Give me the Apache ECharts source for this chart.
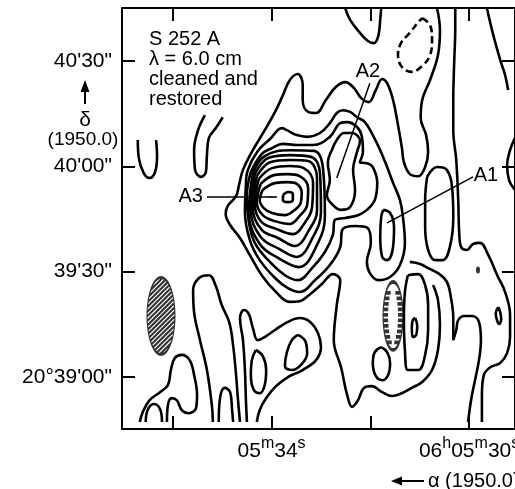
<!DOCTYPE html>
<html><head><meta charset="utf-8">
<script src="https://cdn.jsdelivr.net/npm/echarts@6/dist/echarts.min.js"></script>
<style>html,body{margin:0;padding:0;background:#fff}#c{width:515px;height:489px}</style>
</head><body><div id="c"></div>
<script>
// ---- axes (x: RA seconds of 06h05m, y: arcsec above 20°39'00") ----
const raTicks = [30, 32, 34, 36];
const raLabels = {30: '{n|06}{s|h}{n|05}{s|m}{n|30}{s|s}', 34: '{n|05}{s|m}{n|34}{s|s}'};
const decTicks = [0, 30, 60, 90];
const decLabels = {0: '20°39\'00"', 30: '39\'30"', 60: '40\'00"', 90: '40\'30"'};
const xRange = [29.07, 37.03];
const yRange = [-14.8, 105.1];

// ---- contours [RA s, Dec arcsec] ----
const contourPeak = [[33.77,51.8],[33.67,52.7],[33.57,52.1],[33.57,50.4],[33.67,49.8],[33.77,50.4],[33.77,51.8]];
const contourR1 = [[34.18,53.3],[33.91,55.3],[33.67,55.5],[33.49,55.0],[33.39,52.4],[33.41,49.6],[33.53,47.6],[33.73,46.1],[33.99,46.7],[34.16,48.1],[34.24,50.4],[34.18,53.3]];
const contourR2 = [[34.22,55.0],[33.95,57.5],[33.67,57.8],[33.43,57.2],[33.26,53.8],[33.28,49.0],[33.43,45.9],[33.63,43.6],[33.93,44.4],[34.18,46.1],[34.30,49.8],[34.22,55.0]];
const contourR3 = [[34.26,56.4],[33.99,59.5],[33.63,60.1],[33.35,59.5],[33.16,55.3],[33.18,48.4],[33.32,44.1],[33.57,40.7],[33.91,42.2],[34.20,44.1],[34.34,49.0],[34.26,56.4]];
const contourR4 = [[34.30,57.2],[34.03,61.2],[33.63,61.8],[33.26,61.5],[33.08,56.7],[33.08,47.6],[33.24,41.9],[33.53,37.3],[33.87,39.6],[34.20,41.9],[34.38,48.1],[34.30,57.2]];
const contourR5 = [[34.34,57.8],[34.07,62.4],[33.63,63.2],[33.20,62.7],[33.02,58.1],[33.00,47.0],[33.16,39.9],[33.49,34.2],[33.85,36.5],[34.22,39.9],[34.42,47.6],[34.34,57.8]];
const contourR6 = [[34.38,58.1],[34.14,62.9],[33.63,64.6],[33.14,64.4],[32.96,59.5],[32.92,46.1],[33.06,38.2],[33.45,31.3],[33.83,33.6],[34.24,37.9],[34.46,47.0],[34.38,58.1]];
const contourS3 = [[34.42,58.4],[34.20,63.5],[33.99,65.2],[33.77,66.4],[33.49,66.1],[33.16,66.1],[32.82,68.4],[32.61,72.3],[32.47,72.6],[32.27,71.2],[32.17,68.4],[32.15,64.1],[32.21,61.2],[32.07,60.9],[31.95,59.8],[31.86,55.3],[31.91,50.4],[32.07,47.6],[32.25,46.1],[32.51,45.3],[32.72,44.7],[32.76,40.4],[32.92,35.6],[33.18,31.0],[33.47,27.6],[33.73,29.0],[34.07,33.3],[34.34,38.2],[34.46,44.1],[34.50,51.8],[34.42,58.4]];
const contourS2 = [[34.52,54.7],[34.48,59.0],[34.28,64.4],[34.03,67.8],[33.79,70.9],[33.69,70.3],[33.49,68.9],[33.28,68.4],[33.02,69.5],[32.82,72.3],[32.68,75.2],[32.55,76.0],[32.41,75.5],[32.27,74.0],[32.11,72.6],[31.95,68.9],[31.80,64.6],[31.66,59.8],[31.54,55.3],[31.40,50.4],[31.34,45.6],[31.30,38.2],[31.40,31.9],[31.60,28.5],[31.84,27.6],[32.01,29.6],[32.07,32.8],[31.99,38.2],[32.05,42.4],[32.31,43.0],[32.57,41.9],[32.61,37.0],[32.82,31.9],[33.12,27.6],[33.43,24.2],[33.67,25.3],[33.93,28.2],[34.24,33.3],[34.44,39.0],[34.54,47.0],[34.52,54.7]];
const contourC1 = [[30.65,105.1],[30.59,98.8],[30.63,91.7],[30.79,84.6],[30.95,78.9],[30.98,73.8],[30.87,68.9],[30.83,64.1],[30.89,59.8],[31.03,57.2],[31.20,57.8],[31.32,61.2],[31.36,65.2],[31.44,71.8],[31.54,78.9],[31.66,83.7],[31.76,84.9],[31.89,81.7],[32.03,78.3],[32.19,79.5],[32.33,82.3],[32.51,84.0],[32.70,82.6],[32.90,78.9],[33.10,75.2],[33.26,75.5],[33.37,78.9],[33.37,83.2],[33.47,86.3],[33.63,84.6],[33.77,80.3],[33.93,75.5],[34.16,69.8],[34.38,64.6],[34.58,59.0],[34.66,54.7],[34.72,51.5],[34.89,48.7],[34.93,46.4],[34.84,43.3],[34.64,39.6],[34.44,34.7],[34.20,29.0],[33.91,24.2],[33.63,21.4],[33.43,21.6],[33.22,23.6],[32.98,26.5],[32.76,29.3],[32.61,27.6],[32.68,20.5],[32.74,10.5],[32.59,2.6],[32.47,-5.1],[32.37,-8.5],[32.25,-6.6],[32.13,-3.1],[31.97,-2.6],[31.76,-4.3],[31.56,-5.4],[31.36,-4.6],[31.16,-3.1],[30.95,-1.4],[30.75,2.0],[30.63,7.7],[30.59,14.8],[30.63,21.9],[30.73,26.2]];
const contourA2 = [[32.78,64.6],[32.86,60.9],[32.82,56.1],[32.88,51.8],[32.76,49.0],[32.59,47.6],[32.41,48.4],[32.31,53.3],[32.35,59.0],[32.27,64.1],[32.21,67.2],[32.37,69.5],[32.53,69.5],[32.68,67.5],[32.78,64.6]];
const contourA1 = [[31.74,47.6],[31.60,46.7],[31.52,42.7],[31.54,37.0],[31.66,33.3],[31.76,34.2],[31.80,39.9],[31.78,45.6],[31.74,47.6]];
const contourA1East = [[30.85,57.0],[30.65,59.8],[30.45,59.0],[30.34,53.3],[30.32,45.6],[30.39,37.0],[30.53,33.3],[30.69,33.3],[30.83,36.2],[30.89,42.7],[30.89,50.4],[30.85,57.0]];
const contourEastLong = [[30.28,105.1],[30.28,98.8],[30.30,90.3],[30.32,78.9],[30.32,70.3],[30.26,61.8],[30.22,50.4],[30.20,41.0],[30.16,37.0],[30.04,36.2],[29.92,37.9],[29.78,38.2],[29.61,34.7],[29.43,29.0],[29.27,24.2],[29.17,17.7],[29.17,11.4],[29.23,6.8],[29.37,4.0],[29.57,2.8],[29.70,0.6],[29.74,-5.1],[29.74,-12.8]];
const contourFinger = [[31.20,32.8],[30.99,32.2],[30.83,31.0],[30.63,29.6],[30.45,27.1],[30.37,22.8],[30.32,16.8],[30.32,10.5],[30.26,13.4],[30.22,16.2],[30.10,17.4],[29.94,17.4],[29.80,15.7],[29.76,10.5],[29.80,4.8],[29.88,-0.9],[29.96,-6.6],[30.02,-12.8]];
const contourTall = [[31.24,29.0],[31.03,29.3],[30.89,26.2],[30.83,20.5],[30.83,13.4],[30.89,6.3],[31.03,2.0],[31.24,2.0],[31.30,7.7],[31.32,16.2],[31.30,24.2],[31.24,29.0]];
const contourTallCore = [[31.09,16.8],[31.05,14.5],[31.07,12.0],[31.14,11.4],[31.16,14.2],[31.14,16.2],[31.09,16.8]];
const contourLd = [[31.78,8.5],[31.66,7.1],[31.60,4.0],[31.64,0.6],[31.76,-0.9],[31.89,0.3],[31.95,4.0],[31.91,7.1],[31.78,8.5]];
const contourLa = [[34.50,-12.8],[34.52,-6.6],[34.54,2.0],[34.58,10.5],[34.64,16.8],[34.56,19.1],[34.46,17.9],[34.38,14.0],[34.28,10.5],[34.14,11.4],[33.93,13.4],[33.67,15.7],[33.43,16.8],[33.22,15.7],[33.06,12.5],[33.00,8.5],[33.10,4.8],[33.37,2.0],[33.67,0],[33.91,-2.6],[34.11,-6.0],[34.24,-9.4],[34.30,-12.8]];
const contourLb = [[33.47,12.0],[33.32,10.3],[33.28,6.8],[33.39,3.7],[33.59,2.0],[33.73,3.1],[33.69,7.1],[33.59,10.5],[33.47,12.0]];
const contourLc = [[34.32,7.7],[34.18,6.0],[34.11,2.0],[34.14,-2.3],[34.24,-4.6],[34.36,-3.7],[34.42,0.6],[34.40,4.8],[34.32,7.7]];
const contourG3 = [[35.19,-12.8],[35.21,-8.0],[35.31,2.0],[35.45,10.5],[35.57,18.5],[35.59,24.8],[35.47,28.2],[35.27,29.0],[35.13,25.9],[35.01,20.5],[34.86,15.7],[34.78,9.1],[34.72,0.6],[34.68,-6.6],[34.64,-12.8]];
const contourG5 = [[35.07,-12.8],[35.05,-6.6],[34.95,-3.1],[34.84,-4.3],[34.80,-9.4],[34.78,-12.8]];
const contourG4 = [[36.67,-12.8],[36.61,-10.0],[36.47,-6.6],[36.26,-4.3],[36.10,-2.3],[36.04,2.0],[35.96,5.4],[35.82,6.3],[35.66,4.8],[35.57,0.6],[35.51,-5.1],[35.53,-8.8],[35.68,-10.3],[35.82,-9.4],[35.92,-6.6],[36.02,-6.0],[36.10,-8.0],[36.12,-12.8]];
const contourG4b = [[36.55,-12.8],[36.51,-9.4],[36.39,-7.7],[36.26,-9.1],[36.22,-12.8]];
const contourU = [[36.71,67.5],[36.69,62.4],[36.59,58.1],[36.47,56.7],[36.36,58.4],[36.32,62.9],[36.34,67.5]];
const contourHook = [[35.35,74.6],[35.49,70.3],[35.57,64.6],[35.55,59.0],[35.43,57.0],[35.33,58.4],[35.31,63.2],[35.27,68.1],[35.13,70.9],[34.99,74.0]];
const contourTop = [[32.51,105.1],[32.41,101.7],[32.21,98.0],[32.05,95.7],[31.93,95.1],[31.84,97.1],[31.80,101.7],[31.78,105.1]];
const contourNE = [[29.64,105.1],[29.51,97.4],[29.37,90.3],[29.27,86.0],[29.21,81.7]];
const contourEdge = [[29.07,68.1],[29.17,64.6],[29.23,60.4],[29.19,56.1],[29.07,53.3]];
const contourSmallE = [[29.41,19.9],[29.37,18.5],[29.35,16.5],[29.39,15.1],[29.43,16.0],[29.46,18.2],[29.41,19.9]];
const contourNeg = [[30.95,102.2],[30.79,100.2],[30.75,96.0],[30.79,91.7],[30.95,88.6],[31.16,86.9],[31.36,88.3],[31.44,91.7],[31.38,95.1],[31.20,98.0],[31.03,101.1],[30.95,102.2]];
const dotE = [[29.82,30.5]];
const beamCenter = [[36.24,17.4]];
const negHollowCenter = [[31.54,17.4]];

// ---- annotations ----
const labelText = ['A3', 'A2', 'A1'];
const labelX = [35.64, 32.05, 29.66];
const labelY = [51.3, 87.1, 57.5];
const arrowFromX = [35.31, 32.01, 29.92];
const arrowFromY = [51.3, 83.7, 57.0];
const arrowToX = [33.89, 32.68, 31.66];
const arrowToY = [51.3, 56.7, 43.9];

const FONT = '"Liberation Sans", Arial, sans-serif';

// symbol shapes (decoration)
function ellipseOutline(w, h, n) {
  let s = '';
  for (let i = 0; i <= n; i++) {
    const t = 2 * Math.PI * i / n;
    s += (i ? 'L' : 'M') + (w/2 + w/2*Math.cos(t)).toFixed(2) + ',' + (h/2 + h/2*Math.sin(t)).toFixed(2);
  }
  return s + 'Z';
}
function hatch(w, h, step) {
  const a = w/2, b = h/2; let s = '';
  for (let c = step/2; c < w + h; c += step) {
    const d = c - (a + b);
    const A = 1/(a*a) + 1/(b*b), B = -2*d/(b*b), C = d*d/(b*b) - 1;
    const disc = B*B - 4*A*C; if (disc <= 0) continue;
    const u1 = (-B - Math.sqrt(disc)) / (2*A), u2 = (-B + Math.sqrt(disc)) / (2*A);
    const x1 = a + u1, x2 = a + u2;
    s += 'M' + x1.toFixed(2) + ',' + (c - x1).toFixed(2) + 'L' + x2.toFixed(2) + ',' + (c - x2).toFixed(2);
  }
  return s;
}
function hachure(w, h, step, len) {
  const a = w/2, b = h/2; let s = '';
  for (let y = step; y < h - step/2; y += step) {
    const v = (y - b) / b; const hw = a * Math.sqrt(Math.max(0, 1 - v*v));
    if (hw < len + 1) continue;
    s += 'M' + (a-hw).toFixed(2) + ',' + y.toFixed(2) + 'L' + (a-hw+len).toFixed(2) + ',' + y.toFixed(2);
    s += 'M' + (a+hw-len).toFixed(2) + ',' + y.toFixed(2) + 'L' + (a+hw).toFixed(2) + ',' + y.toFixed(2);
  }
  return s;
}

const solid = [contourPeak, contourR1, contourR2, contourR3, contourR4, contourR5, contourR6, contourS3, contourS2, contourC1,
  contourA2, contourA1, contourA1East, contourEastLong, contourFinger, contourTall, contourTallCore, contourLd,
  contourLa, contourLb, contourLc, contourG3, contourG5, contourG4, contourG4b, contourU, contourHook, contourTop,
  contourNE, contourEdge, contourSmallE];

const series = solid.map(d => ({
  type: 'line', data: d, smooth: 0.4, symbol: 'none', silent: true, animation: false,
  lineStyle: {color: '#000', width: 2.6}
}));
series.push({type: 'line', data: contourNeg, smooth: 0.4, symbol: 'none', silent: true, animation: false,
  lineStyle: {color: '#000', width: 2.6, type: [7, 4]}});
series.push({type: 'scatter', data: dotE, symbol: 'circle', symbolSize: [4, 7], itemStyle: {color: '#000'}, silent: true, animation: false});
series.push({type: 'scatter', data: beamCenter, symbol: 'path://' + ellipseOutline(28, 77, 60) + hatch(28, 77, 4.6),
  symbolSize: [28, 77], itemStyle: {color: 'none', borderColor: '#000', borderWidth: 1.7}, silent: true, animation: false});
series.push({type: 'scatter', data: negHollowCenter, symbol: 'path://' + ellipseOutline(20, 68, 60) + hachure(20, 68, 5.5, 5),
  symbolSize: [20, 68], itemStyle: {color: 'none', borderColor: '#000', borderWidth: 2}, silent: true, animation: false});
series.push({type: 'line', data: [], silent: true, animation: false,
  markLine: {silent: true, animation: false, symbol: ['none', 'arrow'], symbolSize: [1, 10], label: {show: false},
    lineStyle: {color: '#000', width: 1.5, type: 'solid', opacity: 1},
    data: arrowFromX.map((x, i) => [{coord: [x, arrowFromY[i]]}, {coord: [arrowToX[i], arrowToY[i]]}])}});
series.push({type: 'scatter', silent: true, animation: false, symbolSize: 1, itemStyle: {color: 'rgba(0,0,0,0)'},
  label: {show: true, position: 'inside', color: '#000', fontSize: 20, fontFamily: FONT, textBorderWidth: 0, opacity: 1},
  data: labelText.map((t, i) => ({value: [labelX[i], labelY[i]], label: {formatter: t}}))});

const axisLineStyle = {color: '#000', width: 2};
const tickStyle = {show: true, inside: true, length: 13, lineStyle: {color: '#000', width: 2}};

const option = {
  animation: false,
  grid: {left: 122, top: 8, right: 0, bottom: 60, containLabel: false, outerBoundsMode: 'none'},
  xAxis: [
    {type: 'value', position: 'bottom', min: xRange[0], max: xRange[1], inverse: true, splitLine: {show: false},
      axisLine: {show: true, onZero: false, lineStyle: axisLineStyle},
      axisTick: Object.assign({customValues: raTicks}, tickStyle),
      axisLabel: {show: true, customValues: raTicks, margin: 7, hideOverlap: false, formatter: v => raLabels[Math.round(v)] || '',
        rich: {n: {fontSize: 21, fontFamily: FONT, color: '#000', lineHeight: 26, verticalAlign: 'bottom'},
               s: {fontSize: 16, fontFamily: FONT, color: '#000', lineHeight: 12, verticalAlign: 'top'}}}},
    {type: 'value', position: 'top', min: xRange[0], max: xRange[1], inverse: true, splitLine: {show: false},
      axisLine: {show: true, onZero: false, lineStyle: axisLineStyle},
      axisTick: Object.assign({customValues: raTicks}, tickStyle), axisLabel: {show: false}}
  ],
  yAxis: [
    {type: 'value', position: 'left', min: yRange[0], max: yRange[1], splitLine: {show: false},
      axisLine: {show: true, onZero: false, lineStyle: axisLineStyle},
      axisTick: Object.assign({customValues: decTicks}, tickStyle),
      axisLabel: {show: true, customValues: decTicks, margin: 10, color: '#000', fontSize: 21, fontFamily: FONT,
        formatter: v => decLabels[Math.round(v)] || ''}},
    {type: 'value', position: 'right', min: yRange[0], max: yRange[1], splitLine: {show: false},
      axisLine: {show: true, onZero: false, lineStyle: axisLineStyle},
      axisTick: Object.assign({customValues: decTicks}, tickStyle), axisLabel: {show: false}}
  ],
  graphic: [
    {type: 'text', x: 149, y: 29, style: {text: 'S 252 A\nλ = 6.0 cm\ncleaned and\nrestored', font: '20px ' + FONT, fill: '#000', lineHeight: 20, verticalAlign: 'top'}},
    {type: 'line', shape: {x1: 85, y1: 104, x2: 85, y2: 89}, style: {stroke: '#000', lineWidth: 2}},
    {type: 'polygon', shape: {points: [[80.5, 92], [89.5, 92], [85, 80]]}, style: {fill: '#000'}},
    {type: 'text', x: 85, y: 120, style: {text: 'δ', font: '21px ' + FONT, fill: '#000', align: 'center', verticalAlign: 'middle'}},
    {type: 'text', x: 83, y: 140, style: {text: '(1950.0)', font: '19px ' + FONT, fill: '#000', align: 'center', verticalAlign: 'middle'}},
    {type: 'line', shape: {x1: 424, y1: 481, x2: 400, y2: 481}, style: {stroke: '#000', lineWidth: 2}},
    {type: 'polygon', shape: {points: [[402, 476.5], [402, 485.5], [391, 481]]}, style: {fill: '#000'}},
    {type: 'text', x: 428, y: 481, style: {text: 'α (1950.0)', font: '20px ' + FONT, fill: '#000', verticalAlign: 'middle'}}
  ],
  series: series
};
const chart = echarts.init(document.getElementById('c'), null, {renderer: 'canvas'});
chart.setOption(option);
</script>
</body></html>
